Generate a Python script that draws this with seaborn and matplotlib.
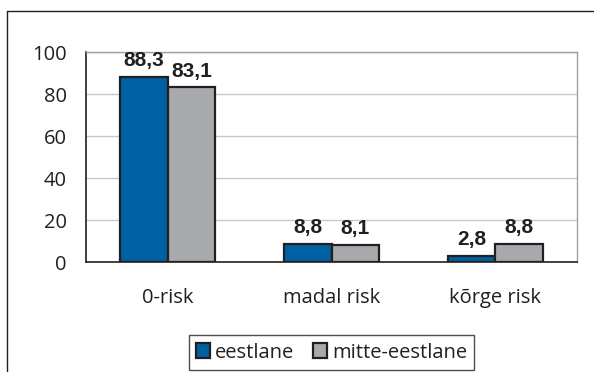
import matplotlib
matplotlib.use("Agg")
import matplotlib.pyplot as plt
from matplotlib.lines import Line2D
import seaborn as sns
import pandas as pd

categories = ["0-risk", "madal risk", "kõrge risk"]
series_names = ["eestlane", "mitte-eestlane"]
eestlane = [88.3, 8.8, 2.8]
mitte_eestlane = [83.1, 8.1, 8.8]
y_ticks = [0, 20, 40, 60, 80, 100]
colors = ["#0061A2", "#A7A9AC"]

df = pd.DataFrame({
    "cat": categories * 2,
    "group": [series_names[0]] * 3 + [series_names[1]] * 3,
    "value": eestlane + mitte_eestlane,
})

sns.set_style("white")
plt.rcParams["font.family"] = ["Open Sans", "DejaVu Sans"]

fig = plt.figure(figsize=(5.94, 3.72), dpi=100)
ax = fig.add_axes([86/594, 1-262/372, (577-86)/594, (262-52)/372])

sns.barplot(data=df, x="cat", y="value", hue="group", order=categories,
            hue_order=series_names, palette=colors, width=0.58, gap=0,
            edgecolor="#231F20", linewidth=1.6, saturation=1, ax=ax, legend=True)

ax.set_xlim(-0.5, 2.5)
ax.set_ylim(0, 100)
ax.set_yticks(y_ticks)
ax.yaxis.grid(True, color="#C8C8C8", linewidth=1.0)
ax.set_axisbelow(True)
ax.set_xlabel("")
ax.set_ylabel("")

for s in ["top", "right"]:
    ax.spines[s].set_color("#A0A0A0")
    ax.spines[s].set_linewidth(1.0)
for s in ["left", "bottom"]:
    ax.spines[s].set_color("#231F20")
    ax.spines[s].set_linewidth(1.2)

ax.tick_params(axis="y", length=6, width=1.2, color="#231F20", pad=8, labelsize=14.5, labelcolor="#231F20")
ax.tick_params(axis="x", which="major", length=0, pad=19, labelsize=14.5, labelcolor="#231F20")
ax.set_xticks([-0.5, 0.5, 1.5, 2.5], minor=True)
ax.tick_params(axis="x", which="minor", length=6, width=1.2, color="#231F20")

for cont in ax.containers:
    ax.bar_label(cont, labels=[f"{v:.1f}".replace(".", ",") for v in cont.datavalues],
                 padding=5, fontsize=15, fontweight="bold", color="#231F20",
                 family=["Liberation Sans", "DejaVu Sans"])

leg = ax.legend(loc="center", bbox_to_anchor=((186+477)/2/594, 1-(335+370)/2/372),
                bbox_transform=fig.transFigure, ncol=2, fontsize=14.5, frameon=True,
                fancybox=False, edgecolor="#231F20", handlelength=0.7, handleheight=0.7,
                handletextpad=0.25, columnspacing=0.9, borderpad=0.35, labelcolor="#231F20")
leg.get_frame().set_linewidth(1.0)
for h in leg.legend_handles:
    h.set_edgecolor("#231F20")
    h.set_linewidth(1.6)

fig.add_artist(Line2D([7/594, 1], [1-11/372, 1-11/372], transform=fig.transFigure, color="#231F20", linewidth=1.0))
fig.add_artist(Line2D([7/594, 7/594], [0, 1-11/372], transform=fig.transFigure, color="#231F20", linewidth=1.0))

fig.savefig("out.png", dpi=100, facecolor="white")
